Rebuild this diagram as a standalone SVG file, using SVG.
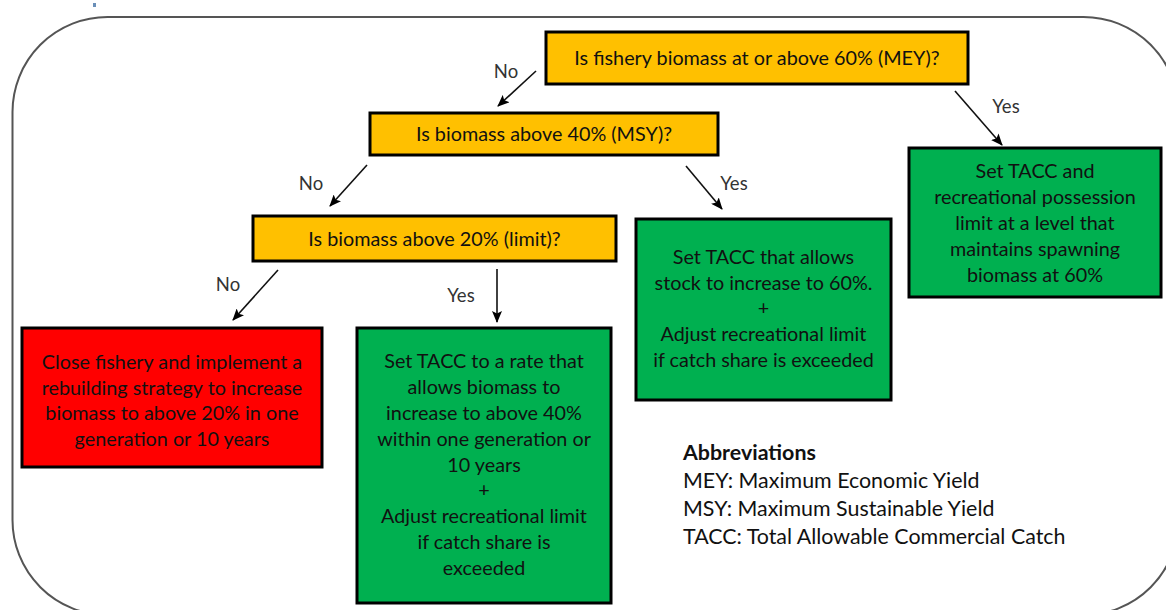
<svg xmlns="http://www.w3.org/2000/svg" width="1166" height="610" viewBox="0 0 1166 610">
<defs>
<marker id="ah" viewBox="0 0 12 10" refX="11" refY="5" markerWidth="12" markerHeight="10" markerUnits="userSpaceOnUse" orient="auto">
<path d="M0,0 L12,5 L0,10 L2.5,5 z" fill="#000"/>
</marker>
<style>
.q{fill:#FFC000;stroke:#000;stroke-width:3}
.g{fill:#00B050;stroke:#000;stroke-width:3}
.r{fill:#FF0000;stroke:#000;stroke-width:3}
.t{font-family:Lato,"Open Sans",sans-serif;font-size:19.8px;fill:#111;text-anchor:middle}
.lb{font-family:Lato,"Open Sans",sans-serif;font-size:18.5px;fill:#333;text-anchor:middle}
.ab{font-family:Lato,"Open Sans",sans-serif;font-size:21.4px;fill:#111}
.c{stroke:#111;stroke-width:1.6;fill:none;marker-end:url(#ah)}
</style>
</defs>
<rect width="1166" height="610" fill="#fff"/>
<rect x="93" y="3" width="3" height="4" fill="#6a8fb8"/>
<rect x="12.5" y="17" width="1166" height="598" rx="95" ry="95" fill="none" stroke="#555" stroke-width="2"/>

<g id="connectors">
<line class="c" x1="536" y1="71" x2="498" y2="106"/>
<text class="lb" x="506" y="78">No</text>
<line class="c" x1="955" y1="91" x2="1002" y2="145"/>
<text class="lb" x="1006" y="113">Yes</text>
<line class="c" x1="367" y1="165" x2="330" y2="206"/>
<text class="lb" x="311" y="190">No</text>
<line class="c" x1="686" y1="166" x2="722" y2="209"/>
<text class="lb" x="734" y="190">Yes</text>
<line class="c" x1="278" y1="270" x2="233" y2="320"/>
<text class="lb" x="228" y="291">No</text>
<line class="c" x1="497" y1="269" x2="497" y2="322"/>
<text class="lb" x="461" y="302">Yes</text>
</g>

<g id="q1">
<rect class="q" x="546" y="32" width="422" height="52"/>
<text class="t" x="757" y="65">Is fishery biomass at or above 60% (MEY)?</text>
</g>
<g id="q2">
<rect class="q" x="370" y="113" width="348" height="42"/>
<text class="t" x="544" y="141">Is biomass above 40% (MSY)?</text>
</g>
<g id="q3">
<rect class="q" x="253" y="216" width="363" height="45"/>
<text class="t" x="434.5" y="246">Is biomass above 20% (limit)?</text>
</g>
<g id="close">
<rect class="r" x="22" y="328" width="300" height="139"/>
<text class="t" x="172" y="369">Close fishery and implement a</text>
<text class="t" x="172" y="394.5">rebuilding strategy to increase</text>
<text class="t" x="172" y="420">biomass to above 20% in one</text>
<text class="t" x="172" y="445.5">generation or 10 years</text>
</g>
<g id="rebuild40">
<rect class="g" x="357" y="328" width="254" height="275"/>
<text class="t" x="484" y="368">Set TACC to a rate that</text>
<text class="t" x="484" y="394">allows biomass to</text>
<text class="t" x="484" y="420">increase to above 40%</text>
<text class="t" x="484" y="446">within one generation or</text>
<text class="t" x="484" y="472">10 years</text>
<text class="t" x="484" y="497">+</text>
<text class="t" x="484" y="523">Adjust recreational limit</text>
<text class="t" x="484" y="549">if catch share is</text>
<text class="t" x="484" y="575">exceeded</text>
</g>
<g id="increase60">
<rect class="g" x="636" y="219" width="255" height="181"/>
<text class="t" x="763.5" y="264">Set TACC that allows</text>
<text class="t" x="763.5" y="290">stock to increase to 60%.</text>
<text class="t" x="763.5" y="315">+</text>
<text class="t" x="763.5" y="341">Adjust recreational limit</text>
<text class="t" x="763.5" y="367">if catch share is exceeded</text>
</g>
<g id="maintain60">
<rect class="g" x="909" y="148" width="252" height="149"/>
<text class="t" x="1035" y="178">Set TACC and</text>
<text class="t" x="1035" y="204">recreational possession</text>
<text class="t" x="1035" y="230">limit at a level that</text>
<text class="t" x="1035" y="256">maintains spawning</text>
<text class="t" x="1035" y="282">biomass at 60%</text>
</g>
<g id="abbreviations">
<text class="ab" x="683" y="460" font-weight="bold">Abbreviations</text>
<text class="ab" x="683" y="488">MEY: Maximum Economic Yield</text>
<text class="ab" x="683" y="516">MSY: Maximum Sustainable Yield</text>
<text class="ab" x="683" y="544">TACC: Total Allowable Commercial Catch</text>
</g>
</svg>
